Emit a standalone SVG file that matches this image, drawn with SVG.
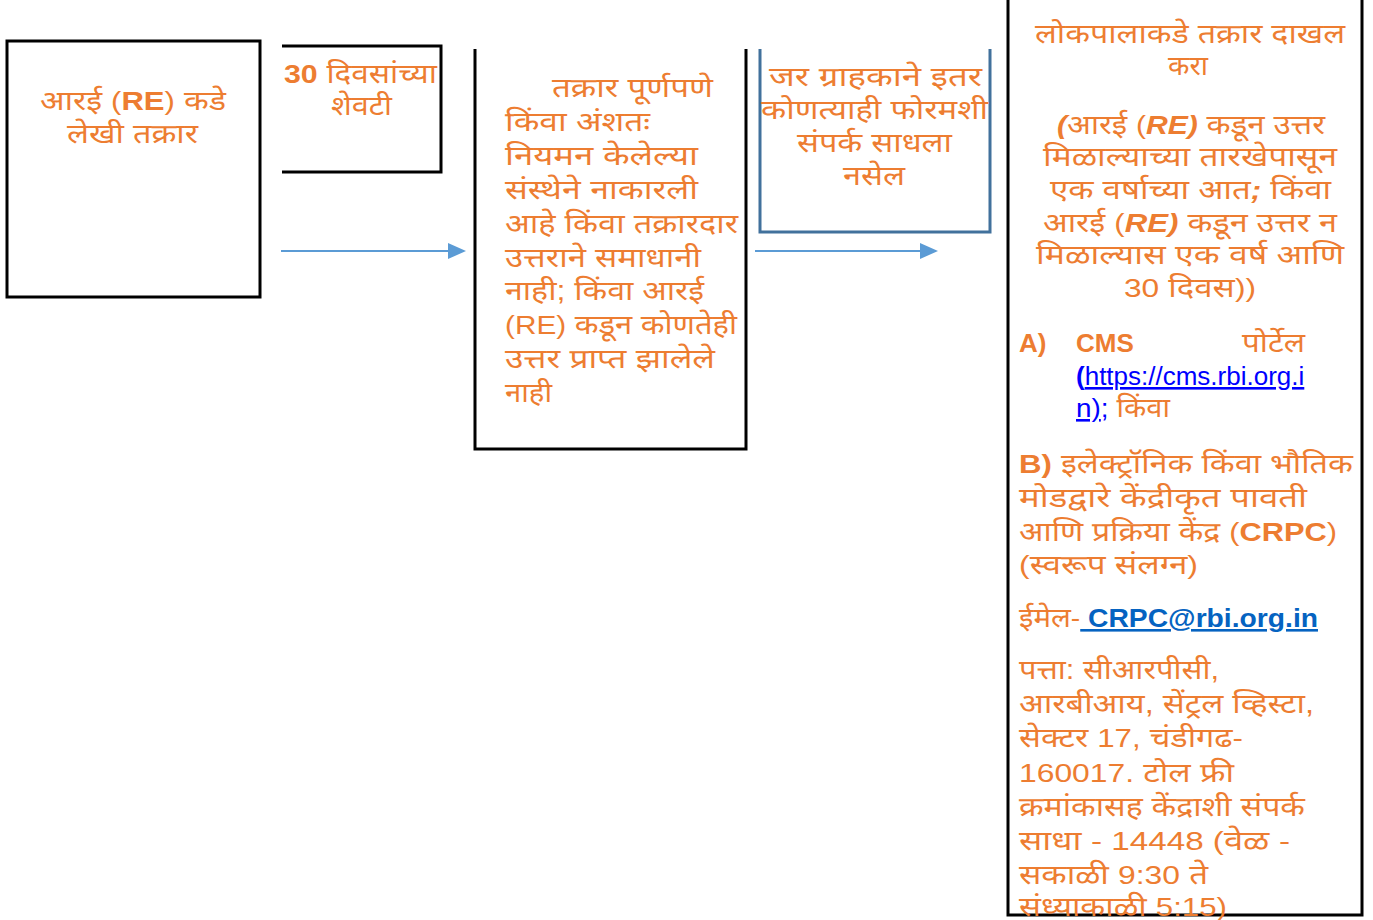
<svg xmlns="http://www.w3.org/2000/svg" width="1373" height="920" viewBox="0 0 1373 920">
<defs>
<style>
text{font-family:"Liberation Sans","Noto Sans Devanagari","Noto Sans",sans-serif;font-size:27px;fill:#ED7D31}
.c{text-anchor:middle}
.e{text-anchor:end}
.l{font-size:26px}
.b{font-weight:bold;font-size:26px}
.bi{font-weight:bold;font-style:italic;font-size:26px}
.lnk{fill:#0000FF;text-decoration:underline;font-size:26px}
.mail{fill:#0563C1;font-weight:bold;text-decoration:underline;font-size:26px}
.blk{fill:none;stroke:#000;stroke-width:3}
.blu{fill:none;stroke:#41719C;stroke-width:3}
.conn{stroke:#5B9BD5;stroke-width:2;fill:none}
.head{fill:#5B9BD5}
</style>
</defs>
<rect width="1373" height="920" fill="#fff"/>

<g id="connectors">
<line class="conn" x1="281" y1="251" x2="450" y2="251"/>
<path class="head" d="M448,243 L466,251 L448,259 Z"/>
<line class="conn" x1="755" y1="251" x2="922" y2="251"/>
<path class="head" d="M920,243 L938,251 L920,259 Z"/>
</g>

<g id="node1">
<rect class="blk" x="7" y="41" width="253" height="256"/>
<text class="c" x="133" y="110" textLength="186" lengthAdjust="spacingAndGlyphs">आरई <tspan class="l">(</tspan><tspan class="b">RE</tspan><tspan class="l">)</tspan> कडे</text>
<text class="c" x="132.5" y="143" textLength="131" lengthAdjust="spacingAndGlyphs">लेखी तक्रार</text>
</g>

<g id="node2">
<path class="blk" d="M282,46 H441 V172 H282"/>
<text class="c" x="360.5" y="83" textLength="153" lengthAdjust="spacingAndGlyphs"><tspan class="b">30</tspan> दिवसांच्या</text>
<text class="c" x="361.5" y="115" textLength="61" lengthAdjust="spacingAndGlyphs">शेवटी</text>
</g>

<g id="node3">
<path class="blk" d="M475,49 V449 H746 V49"/>
<text x="552" y="97" textLength="161" lengthAdjust="spacingAndGlyphs">तक्रार पूर्णपणे</text>
<text x="505" y="131" textLength="145" lengthAdjust="spacingAndGlyphs">किंवा अंशतः</text>
<text x="505" y="165" textLength="193" lengthAdjust="spacingAndGlyphs">नियमन केलेल्या</text>
<text x="505" y="199" textLength="193" lengthAdjust="spacingAndGlyphs">संस्थेने नाकारली</text>
<text x="505" y="233" textLength="233" lengthAdjust="spacingAndGlyphs">आहे किंवा तक्रारदार</text>
<text x="505" y="267" textLength="196" lengthAdjust="spacingAndGlyphs">उत्तराने समाधानी</text>
<text x="505" y="300" textLength="199" lengthAdjust="spacingAndGlyphs">नाही; किंवा आरई</text>
<text x="505" y="334" textLength="232" lengthAdjust="spacingAndGlyphs"><tspan class="l">(RE)</tspan> कडून कोणतेही</text>
<text x="505" y="368" textLength="210" lengthAdjust="spacingAndGlyphs">उत्तर प्राप्त झालेले</text>
<text x="505" y="402" textLength="47" lengthAdjust="spacingAndGlyphs">नाही</text>
</g>

<g id="node4">
<path class="blu" d="M760,49 V232 H990 V49"/>
<text class="c" x="875.5" y="86" textLength="213" lengthAdjust="spacingAndGlyphs">जर ग्राहकाने इतर</text>
<text class="c" x="874.5" y="119" textLength="227" lengthAdjust="spacingAndGlyphs">कोणत्याही फोरमशी</text>
<text class="c" x="874.5" y="152" textLength="155" lengthAdjust="spacingAndGlyphs">संपर्क साधला</text>
<text class="c" x="874" y="185" textLength="62" lengthAdjust="spacingAndGlyphs">नसेल</text>
</g>

<g id="node5">
<path class="blk" d="M1008,0 V915 H1362 V0"/>
<text class="c" x="1190" y="43" textLength="310" lengthAdjust="spacingAndGlyphs">लोकपालाकडे तक्रार दाखल</text>
<text class="c" x="1188" y="75" textLength="40" lengthAdjust="spacingAndGlyphs">करा</text>
<text class="c" x="1191" y="134" textLength="268" lengthAdjust="spacingAndGlyphs"><tspan class="bi">(</tspan>आरई <tspan class="l">(</tspan><tspan class="bi">RE)</tspan> कडून उत्तर</text>
<text class="c" x="1190" y="166" textLength="294" lengthAdjust="spacingAndGlyphs">मिळाल्याच्या तारखेपासून</text>
<text class="c" x="1190.5" y="199" textLength="281" lengthAdjust="spacingAndGlyphs">एक वर्षाच्या आत<tspan class="bi">;</tspan> किंवा</text>
<text class="c" x="1190" y="232" textLength="294" lengthAdjust="spacingAndGlyphs">आरई <tspan class="l">(</tspan><tspan class="bi">RE)</tspan> कडून उत्तर न</text>
<text class="c" x="1190" y="264" textLength="308" lengthAdjust="spacingAndGlyphs">मिळाल्यास एक वर्ष आणि</text>
<text class="c" x="1190" y="297" textLength="132" lengthAdjust="spacingAndGlyphs"><tspan class="l">30</tspan> दिवस<tspan class="l">))</tspan></text>

<text class="b" x="1019" y="352">A)</text>
<text class="b" x="1076" y="352">CMS</text>
<text class="e" x="1305" y="352" textLength="63" lengthAdjust="spacingAndGlyphs">पोर्टेल</text>
<text class="lnk" x="1076" y="385"><tspan font-weight="bold">(</tspan>https://cms.rbi.org.i</text>
<text x="1076" y="417" textLength="94" lengthAdjust="spacingAndGlyphs"><tspan class="lnk">n)</tspan><tspan class="l" fill="#0000FF">;</tspan> किंवा</text>

<text x="1019" y="473" textLength="334" lengthAdjust="spacingAndGlyphs"><tspan class="b">B)</tspan> इलेक्ट्रॉनिक किंवा भौतिक</text>
<text x="1019" y="507" textLength="288" lengthAdjust="spacingAndGlyphs">मोडद्वारे केंद्रीकृत पावती</text>
<text x="1019" y="541" textLength="318" lengthAdjust="spacingAndGlyphs">आणि प्रक्रिया केंद्र <tspan class="l">(</tspan><tspan class="b">CRPC</tspan><tspan class="l">)</tspan></text>
<text x="1019" y="574" textLength="179" lengthAdjust="spacingAndGlyphs"><tspan class="l">(</tspan>स्वरूप संलग्न<tspan class="l">)</tspan></text>

<text x="1019" y="627" textLength="299" lengthAdjust="spacingAndGlyphs">ईमेल<tspan class="l">-</tspan><tspan class="mail"> CRPC@rbi.org.in</tspan></text>

<text x="1019" y="679" textLength="200" lengthAdjust="spacingAndGlyphs">पत्ता: सीआरपीसी,</text>
<text x="1019" y="713" textLength="295" lengthAdjust="spacingAndGlyphs">आरबीआय, सेंट्रल व्हिस्टा,</text>
<text x="1019" y="747" textLength="224" lengthAdjust="spacingAndGlyphs">सेक्टर <tspan class="l">17,</tspan> चंडीगढ<tspan class="l">-</tspan></text>
<text x="1019" y="782" textLength="215" lengthAdjust="spacingAndGlyphs"><tspan class="l">160017.</tspan> टोल फ्री</text>
<text x="1019" y="816" textLength="286" lengthAdjust="spacingAndGlyphs">क्रमांकासह केंद्राशी संपर्क</text>
<text x="1019" y="850" textLength="271" lengthAdjust="spacingAndGlyphs">साधा <tspan class="l">- 14448 (</tspan>वेळ <tspan class="l">-</tspan></text>
<text x="1019" y="884" textLength="189" lengthAdjust="spacingAndGlyphs">सकाळी <tspan class="l">9:30</tspan> ते</text>
<text x="1019" y="916" textLength="208" lengthAdjust="spacingAndGlyphs">संध्याकाळी <tspan class="l">5:15)</tspan></text>
</g>
</svg>
